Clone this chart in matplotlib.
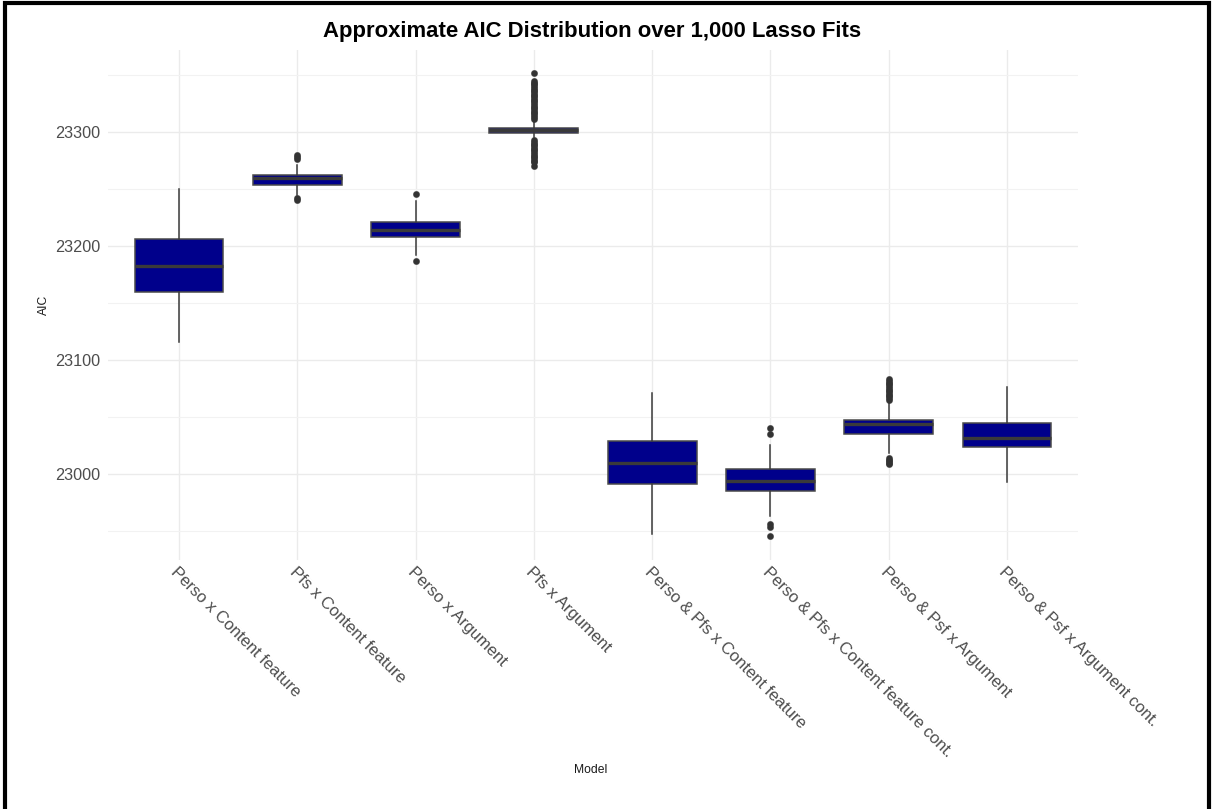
import matplotlib
matplotlib.use("Agg")
import matplotlib.pyplot as plt
from matplotlib.patches import Rectangle
from matplotlib.ticker import MultipleLocator

plt.rcParams['font.family'] = ['Liberation Sans', 'DejaVu Sans']

# Model labels
models = [
    "Perso x Content feature",
    "Pfs x Content feature",
    "Perso x Argument",
    "Pfs x Argument",
    "Perso & Pfs x Content feature",
    "Perso & Pfs x Content feature cont.",
    "Perso & Psf x Argument",
    "Perso & Psf x Argument cont.",
]

# Box statistics of the AIC values per model
q1 = [23160.0, 23253.5, 23207.6, 23299.4, 22991.0, 22985.4, 23035.1, 23023.4]
median = [23182.5, 23259.4, 23213.8, 23301.8, 23009.4, 22993.6, 23043.6, 23031.8]
q3 = [23206.1, 23262.2, 23221.0, 23304.1, 23028.9, 23004.1, 23047.4, 23045.0]
whisker_low = [23116.0, 23244.7, 23192.0, 23296.0, 22947.1, 22963.4, 23018.2, 22992.7]
whisker_high = [23250.5, 23271.0, 23239.7, 23310.0, 23071.3, 23025.7, 23062.0, 23076.0]

# Outlying fits per model
outliers = [
    [],
    [23280.0, 23278.5, 23276.5, 23242.0, 23240.5],
    [23245.4, 23186.8],
    [23352.0, 23345.0, 23343.5, 23342.0, 23340.5, 23339.0, 23337.5, 23336.0,
     23334.5, 23333.0, 23331.5, 23330.0, 23328.5, 23327.0, 23325.5, 23324.0,
     23322.5, 23321.0, 23319.5, 23318.0, 23316.5, 23315.0, 23313.5, 23312.0,
     23293.0, 23291.5, 23290.0, 23288.5, 23287.0, 23285.5, 23284.0, 23282.5,
     23281.0, 23279.5, 23278.0, 23276.5, 23275.0, 23274.0, 23270.0],
    [],
    [23040.1, 23034.6, 22955.9, 22953.8, 22945.4],
    [23083.0, 23081.5, 23080.0, 23078.5, 23077.0, 23075.5, 23074.0, 23072.5,
     23071.0, 23069.5, 23068.0, 23066.5, 23065.0,
     23014.0, 23012.5, 23011.0, 23009.5, 23008.5],
    [],
]

y_ticks = [23000, 23100, 23200, 23300]

fig = plt.figure(figsize=(12.12, 8.09), dpi=100)
ax = fig.add_axes([108 / 1212, 1 - 560 / 809, 970 / 1212, 510 / 809])

stats = []
for i, name in enumerate(models):
    stats.append(dict(label=name, med=median[i], q1=q1[i], q3=q3[i],
                      whislo=whisker_low[i], whishi=whisker_high[i],
                      fliers=outliers[i]))

edge = "#3A3A3A"
positions = list(range(1, len(models) + 1))
ax.bxp(stats, positions=positions, widths=0.75, patch_artist=True,
       showcaps=False,
       boxprops=dict(facecolor="#00008B", edgecolor="#4A4A4A", linewidth=1.1),
       medianprops=dict(color=edge, linewidth=2.4),
       whiskerprops=dict(color=edge, linewidth=1.1),
       flierprops=dict(marker="o", markersize=4.6, markerfacecolor="#333333",
                       markeredgecolor="#333333", markeredgewidth=0.2),
       zorder=3)

ax.set_xlim(0.4, len(models) + 0.6)
ax.set_ylim(22924.4, 23372.2)
ax.set_yticks(y_ticks)
ax.set_yticklabels([str(v) for v in y_ticks])
ax.yaxis.set_minor_locator(MultipleLocator(50))
ax.set_xticks(positions)
ax.set_xticklabels(models, rotation=-45, ha="left", va="top",
                   rotation_mode="anchor")

ax.grid(True, which="major", color="#EBEBEB", linewidth=1.0, zorder=0)
ax.grid(True, which="minor", axis="y", color="#F2F2F2", linewidth=0.8, zorder=0)
ax.set_axisbelow(True)
for s in ax.spines.values():
    s.set_visible(False)
ax.tick_params(axis="both", which="both", length=0, colors="#4D4D4D")
ax.tick_params(axis="y", labelsize=11.7, pad=5.5)
ax.tick_params(axis="x", labelsize=12, pad=3)

ax.set_ylabel("AIC", fontsize=8.7, color="#1A1A1A")
ax.yaxis.set_label_coords(-0.0598, 0.5)
fig.text(591 / 1212, 1 - 770 / 809, "Model", fontsize=8.7, color="#1A1A1A",
         ha="center", va="center")

fig.text(592 / 1212, 1 - 32 / 809,
         "Approximate AIC Distribution over 1,000 Lasso Fits",
         fontsize=15.9, fontweight="bold", color="black",
         ha="center", va="center")

# Frame around the figure (left, top and right edges)
fig.add_artist(Rectangle((5 / 1212, -0.05), 1204 / 1212, 1.05 - 2.5 / 809,
                         transform=fig.transFigure, fill=False,
                         edgecolor="black", linewidth=3.0))

fig.savefig("out.png", dpi=100, facecolor="white")
